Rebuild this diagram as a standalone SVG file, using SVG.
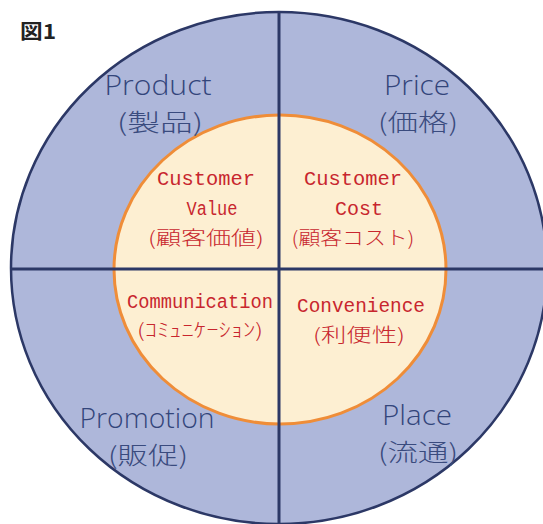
<svg xmlns="http://www.w3.org/2000/svg" width="543" height="524" viewBox="0 0 543 524">
  <style>
    .outer { fill: #aeb7da; stroke: #2c3866; stroke-width: 2.5; }
    .inner { fill: #fdefd2; stroke: #ef8d38; stroke-width: 3; }
    .axis { stroke: #2c3866; stroke-width: 3; fill: none; }
    .lbl { font-family: "Open Sans", "Noto Sans", "Noto Sans CJK JP", sans-serif; font-size: 27px; font-weight: 300; fill: #33457a; text-anchor: middle; }
    .jp { font-family: "Noto Sans CJK JP", sans-serif; font-size: 24px; fill: #3a4b7e; text-anchor: middle; font-weight: 300; }
    .red { font-family: "Liberation Mono", "DejaVu Sans Mono", monospace; font-size: 20px; fill: #c8262e; text-anchor: middle; }
    .redjp { font-family: "Noto Sans CJK JP", sans-serif; font-size: 19px; font-weight: 300; fill: #c8262e; text-anchor: middle; }
    .title { font-family: "Noto Sans CJK JP", sans-serif; font-size: 20px; font-weight: bold; fill: #222; }
  </style>
  <rect width="543" height="524" fill="#ffffff"/>
  <text class="title" x="20" y="39" textLength="36" lengthAdjust="spacingAndGlyphs">図1</text>

  <g id="outer-circle">
    <ellipse class="outer" cx="279" cy="268" rx="268" ry="256"/>
  </g>
  <g id="inner-circle">
    <ellipse class="inner" cx="280" cy="269.5" rx="166" ry="154.5"/>
  </g>

  <g id="connectors">
    <line class="axis" x1="279" y1="12" x2="279" y2="524"/>
    <line class="axis" x1="11" y1="269" x2="543" y2="269"/>
  </g>

  <g id="product">
    <text class="lbl" x="158" y="95" textLength="107" lengthAdjust="spacingAndGlyphs">Product</text>
    <text class="jp" x="160" y="131" textLength="86" lengthAdjust="spacingAndGlyphs">(製品)</text>
  </g>
  <g id="price">
    <text class="lbl" x="417" y="95" textLength="66" lengthAdjust="spacingAndGlyphs">Price</text>
    <text class="jp" x="418" y="131" textLength="80" lengthAdjust="spacingAndGlyphs">(価格)</text>
  </g>
  <g id="promotion">
    <text class="lbl" x="147" y="428" textLength="135" lengthAdjust="spacingAndGlyphs">Promotion</text>
    <text class="jp" x="148" y="464" textLength="80" lengthAdjust="spacingAndGlyphs">(販促)</text>
  </g>
  <g id="place">
    <text class="lbl" x="417" y="425" textLength="70" lengthAdjust="spacingAndGlyphs">Place</text>
    <text class="jp" x="418" y="461" textLength="80" lengthAdjust="spacingAndGlyphs">(流通)</text>
  </g>

  <g id="customer-value">
    <text class="red" x="206" y="185" textLength="98" lengthAdjust="spacingAndGlyphs">Customer</text>
    <text class="red" x="212" y="215" textLength="51" lengthAdjust="spacingAndGlyphs">Value</text>
    <text class="redjp" x="206" y="245" textLength="116" lengthAdjust="spacingAndGlyphs">(顧客価値)</text>
  </g>
  <g id="customer-cost">
    <text class="red" x="353" y="185" textLength="98" lengthAdjust="spacingAndGlyphs">Customer</text>
    <text class="red" x="359" y="215" textLength="48" lengthAdjust="spacingAndGlyphs">Cost</text>
    <text class="redjp" x="353" y="245" textLength="123" lengthAdjust="spacingAndGlyphs">(顧客コスト)</text>
  </g>
  <g id="communication">
    <text class="red" x="200" y="308" textLength="146" lengthAdjust="spacingAndGlyphs">Communication</text>
    <text class="redjp" x="200" y="337" textLength="126" lengthAdjust="spacingAndGlyphs">(ｺﾐｭﾆｹｰｼｮﾝ)</text>
  </g>
  <g id="convenience">
    <text class="red" x="361" y="312" textLength="128" lengthAdjust="spacingAndGlyphs">Convenience</text>
    <text class="redjp" x="359" y="342" textLength="92" lengthAdjust="spacingAndGlyphs">(利便性)</text>
  </g>
</svg>
